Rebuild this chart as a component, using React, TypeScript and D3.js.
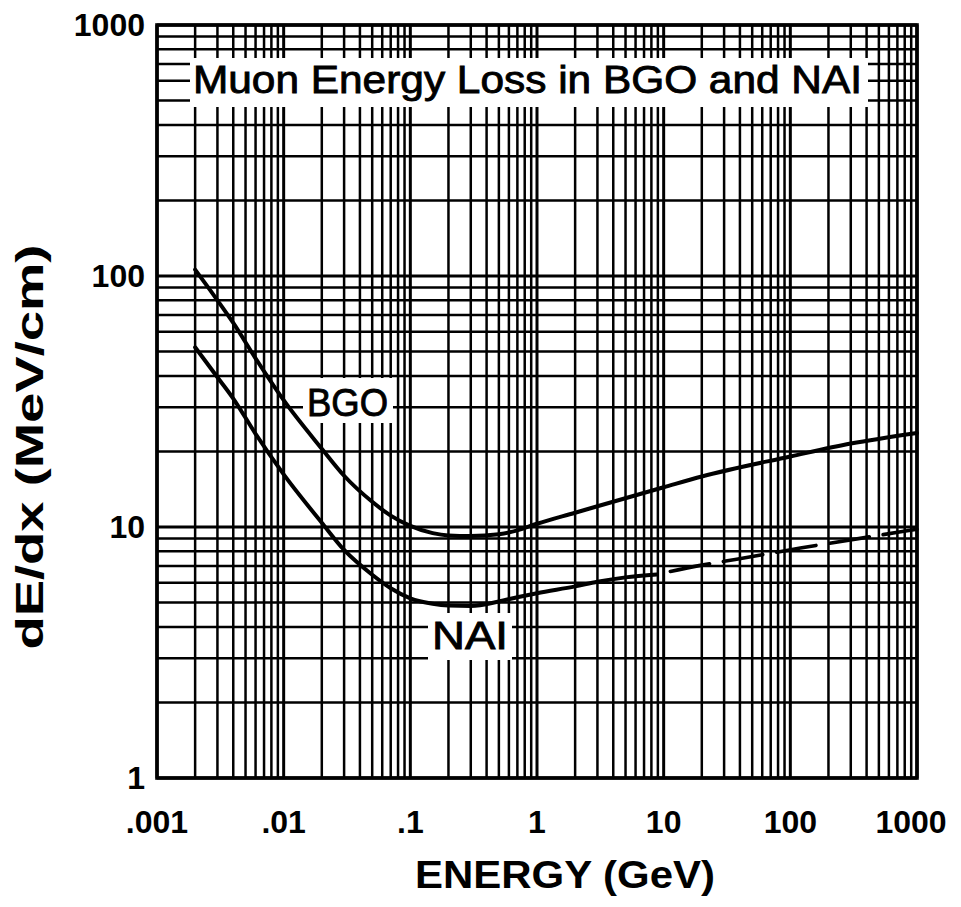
import React from "react";
import * as d3 from "d3";

const W = 961;
const H = 907;

// Tick labels
const xTickValues = [0.001, 0.01, 0.1, 1, 10, 100, 1000];
const xTickLabels = [".001", ".01", ".1", "1", "10", "100", "1000"];
const yTickValues = [1, 10, 100, 1000];
const yTickLabels = ["1", "10", "100", "1000"];

// BGO curve (GeV, MeV/cm)
const bgoE = [0.002, 0.003, 0.004, 0.006, 0.01, 0.02, 0.03, 0.05, 0.07, 0.1, 0.15, 0.2, 0.3, 0.5, 0.7, 1, 2, 3, 10, 20, 100, 300, 1000];
const bgoV = [106, 80, 65, 47, 32, 20.5, 16, 12.6, 11.1, 10.1, 9.45, 9.25, 9.2, 9.35, 9.7, 10.3, 11.4, 12.1, 14.4, 15.9, 19.1, 21.5, 23.7];

// NAI curve, solid part
const naiE = [0.002, 0.003, 0.004, 0.006, 0.01, 0.02, 0.03, 0.05, 0.07, 0.1, 0.15, 0.2, 0.3, 0.5, 0.7, 1, 2, 3, 5, 8.8];
const naiV = [52, 39.5, 32.5, 23.5, 16.2, 10.4, 8.1, 6.45, 5.7, 5.2, 4.95, 4.87, 4.85, 5.05, 5.25, 5.45, 5.8, 6.05, 6.3, 6.47];
// NAI curve, dashed part
const naiDashE = [8.8, 20, 30, 60, 120, 200, 1000];
const naiDashV = [6.47, 7.05, 7.3, 7.75, 8.25, 8.6, 9.8];

const FONT = "'Liberation Sans', Arial, sans-serif";

export default function App() {
  const x = d3.scaleLog().domain([0.001, 1000]).range([157, 917]);
  const y = d3.scaleLog().domain([1, 1000]).range([778, 25]);

  const xGrid: { v: number; major: boolean }[] = [];
  for (let d = -3; d <= 2; d++) {
    for (let k = 1; k <= 9; k++) xGrid.push({ v: +(k * Math.pow(10, d)).toPrecision(3), major: k === 1 });
  }
  xGrid.push({ v: 1000, major: true });
  const yGrid: { v: number; major: boolean }[] = [];
  for (let d = 0; d <= 2; d++) {
    for (let k = 1; k <= 9; k++) yGrid.push({ v: +(k * Math.pow(10, d)).toPrecision(3), major: k === 1 });
  }
  yGrid.push({ v: 1000, major: true });

  const line = d3
    .line<[number, number]>()
    .x((d) => x(d[0]))
    .y((d) => y(d[1]))
    .curve(d3.curveMonotoneX);

  const bgo = line(bgoE.map((e, i) => [e, bgoV[i]] as [number, number])) || "";
  const nai = line(naiE.map((e, i) => [e, naiV[i]] as [number, number])) || "";
  const naiDash = line(naiDashE.map((e, i) => [e, naiDashV[i]] as [number, number])) || "";

  return (
    <svg
      width={W}
      height={H}
      viewBox={`0 0 ${W} ${H}`}
      style={{ position: "absolute", left: 0, top: 0, background: "#fff" }}
    >
      <rect x={0} y={0} width={W} height={H} fill="#fff" />
      {/* grid */}
      <g stroke="#000">
        {xGrid.map((g, i) => (
          <line key={"vx" + i} x1={x(g.v)} x2={x(g.v)} y1={y(1000)} y2={y(1)} strokeWidth={g.major ? 3 : 2.5} />
        ))}
        {yGrid.map((g, i) => (
          <line key={"hy" + i} x1={x(0.001)} x2={x(1000)} y1={y(g.v)} y2={y(g.v)} strokeWidth={g.major ? 3 : 2.5} />
        ))}
      </g>
      {/* white label boxes */}
      <rect x={190} y={58} width={678} height={49} fill="#fff" />
      <rect x={303} y={378} width={90} height={45} fill="#fff" />
      <rect x={428} y={613} width={84} height={47} fill="#fff" />

      <g fontFamily={FONT} fontSize={39} fill="#000" stroke="#000" strokeWidth={0.9}>
        <text x={193} y={93} textLength={669} lengthAdjust="spacingAndGlyphs">
          Muon Energy Loss in BGO and NAI
        </text>
        <text x={307} y={416} textLength={81} lengthAdjust="spacingAndGlyphs">
          BGO
        </text>
        <text x={432} y={649} textLength={76} lengthAdjust="spacingAndGlyphs">
          NAI
        </text>
      </g>

      {/* curves */}
      <g fill="none" stroke="#000" strokeLinecap="round">
        <path d={bgo} strokeWidth={4} />
        <path d={nai} strokeWidth={4} />
        <path d={naiDash} strokeWidth={3.6} strokeDasharray="40 14" strokeDashoffset={40} />
      </g>

      {/* frame */}
      <rect x={x(0.001)} y={y(1000)} width={x(1000) - x(0.001)} height={y(1) - y(1000)} fill="none" stroke="#000" strokeWidth={3.6} />

      {/* tick labels */}
      <g fontFamily={FONT} fontSize={32} fontWeight="bold" fill="#000">
        {yTickValues.map((v, i) => (
          <text key={"yl" + i} x={145} y={y(v) + 11} textAnchor="end">
            {yTickLabels[i]}
          </text>
        ))}
        {xTickValues.map((v, i) => (
          <text key={"xl" + i} x={x(v) - (v === 1000 ? 6 : 0)} y={833} textAnchor="middle">
            {xTickLabels[i]}
          </text>
        ))}
      </g>

      {/* axis titles */}
      <text x={565} y={888} fontFamily={FONT} fontSize={38} fontWeight="bold" textAnchor="middle" textLength={300} lengthAdjust="spacingAndGlyphs">
        ENERGY  (GeV)
      </text>
      <text
        transform={`translate(43, 447) rotate(-90)`}
        fontFamily={FONT}
        fontSize={38}
        fontWeight="bold"
        textAnchor="middle"
        textLength={405}
        lengthAdjust="spacingAndGlyphs"
      >
        dE/dx  (MeV/cm)
      </text>
    </svg>
  );
}
